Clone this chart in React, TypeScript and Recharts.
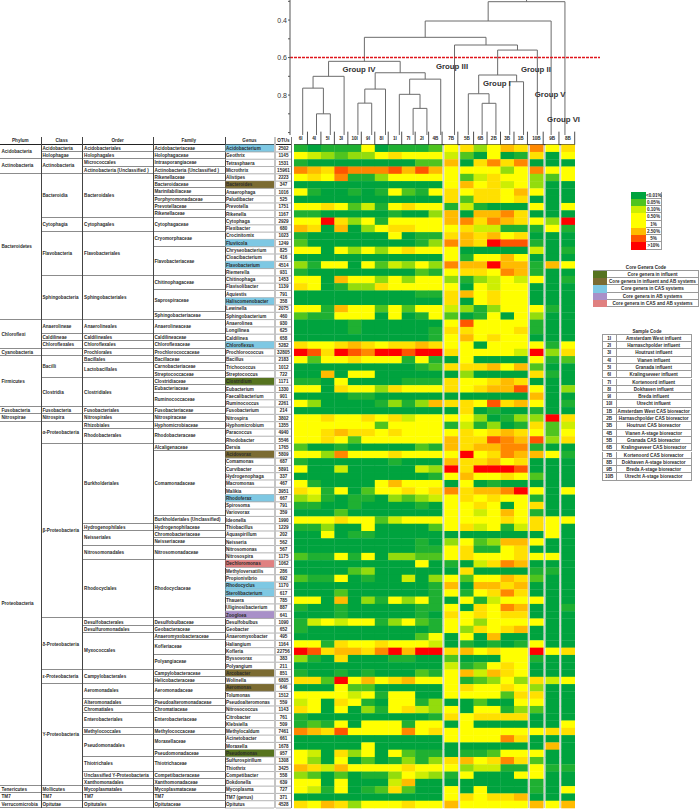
import React from "react";
import { LineChart, Line, ScatterChart, Scatter, XAxis, YAxis, ReferenceLine, ReferenceDot } from "recharts";

const columnNames = ["6I", "4I", "5I", "3I", "10I", "9I", "8I", "1I", "7I", "2I", "4B", "7B", "5B", "6B", "2B", "3B", "1B", "10B", "9B", "8B"];
const columnGroups = [11, 1, 5, 1, 1, 1];

const genera = ["Acidobacterium", "Geothrix", "Tetrasphaera", "Microthrix", "Alistipes", "Bacteroides", "Anaerophaga", "Paludibacter", "Prevotella", "Rikenella", "Cytophaga", "Flexibacter", "Crocinitomix", "Fluviicola", "Chryseobacterium", "Cloacibacterium", "Flavobacterium", "Riemerella", "Chitinophaga", "Flavisolibacter", "Aquiestis", "Haliscomenobacter", "Lewinella", "Sphingobacterium", "Anaerolinea", "Longilinea", "Caldilinea", "Chloroflexus", "Prochlorococcus", "Bacillus", "Trichococcus", "Streptococcus", "Clostridium", "Eubacterium", "Faecalibacterium", "Ruminococcus", "Fusobacterium", "Nitrospira", "Hyphomicrobium", "Paracoccus", "Rhodobacter", "Dersia", "Acidovorax", "Comamonas", "Curvibacter", "Hydrogenophaga", "Macromonas", "Malikia", "Rhodoferax", "Spirosoma", "Variovorax", "Ideonella", "Thiobacillus", "Aquaspirillum", "Neisseria", "Nitrosomonas", "Nitrosospira", "Dechloromonas", "Methyloversatilis", "Propionivibrio", "Rhodocyclus", "Sterolibacterium", "Thauera", "Uliginosibacterium", "Zoogloea", "Desulfobulbus", "Geobacter", "Anaeromyxobacter", "Haliangium", "Kofleria", "Byssovorax", "Polyangium", "Arcobacter", "Wolinella", "Aeromonas", "Tolumonas", "Pseudoalteromonas", "Nitrosococcus", "Citrobacter", "Klebsiella", "Methylocaldum", "Acinetobacter", "Moraxella", "Pseudomonas", "Sulfurospirillum", "Thiothrix", "Competibacter", "Dokdonella", "Mycoplasma", "TM7 (genus)", "Opitutus"];
const otus = [2502, 1145, 1531, 15961, 2223, 347, 1016, 525, 1751, 1167, 2929, 680, 1023, 1249, 825, 416, 4514, 931, 1453, 1139, 791, 358, 2075, 460, 930, 625, 658, 5282, 32805, 2183, 1012, 722, 1171, 1330, 901, 2261, 214, 3802, 1355, 4940, 5546, 1765, 5809, 687, 5891, 337, 467, 3951, 667, 791, 359, 1990, 1229, 202, 562, 567, 1175, 1062, 286, 692, 1170, 617, 785, 887, 641, 1090, 652, 495, 1164, 22756, 383, 211, 851, 6805, 646, 1512, 559, 1143, 761, 509, 7461, 661, 1678, 957, 1308, 3425, 558, 639, 727, 371, 4528];

const phyla: [string, number][] = [["Acidobacteria", 2], ["Actinobacteria", 2], ["Bacteroidetes", 20], ["Chloroflexi", 4], ["Cyanobacteria", 1], ["Firmicutes", 7], ["Fusobacteria", 1], ["Nitrospirae", 1], ["Proteobacteria", 50], ["Tenericutes", 1], ["TM7", 1], ["Verrucomicrobia", 1]];
const classes: [string, number][] = [["Acidobacteria", 1], ["Holophagae", 1], ["Actinobacteria", 2], ["Bacteroidia", 6], ["Cytophagia", 2], ["Flavobacteria", 6], ["Sphingobacteria", 6], ["Anaerolineae", 2], ["Caldilineae", 1], ["Chloroflexales", 1], ["", 1], ["Bacilli", 3], ["Clostridia", 4], ["Fusobacteria", 1], ["Nitrospira", 1], ["α-Proteobacteria", 3], ["β-Proteobacteria", 24], ["δ-Proteobacteria", 7], ["ε-Proteobacteria", 2], ["Y-Proteobacteria", 14], ["Mollicutes", 1], ["TM7", 1], ["Opitutae", 1]];
const orders: [string, number][] = [["Acidobacteriales", 1], ["Holophagales", 1], ["Micrococcales", 1], ["Actinobacteria (Unclassified )", 1], ["Bacteroidales", 6], ["Cytophagales", 2], ["Flavobacteriales", 6], ["Sphingobacteriales", 6], ["Anaerolineales", 2], ["Caldilineales", 1], ["Chloroflexales", 1], ["Prochlorales", 1], ["Bacillales", 1], ["Lactobacillales", 2], ["Clostridiales", 4], ["Fusobacteriales", 1], ["Nitrospirales", 1], ["Rhizobiales", 1], ["Rhodobacterales", 2], ["Burkholderiales", 11], ["Hydrogenophilales", 1], ["Neisseriales", 2], ["Nitrosomonadales", 2], ["Rhodocyclales", 8], ["Desulfobacterales", 1], ["Desulfuromonadales", 1], ["Myxococcales", 5], ["Campylobacterales", 2], ["Aeromonadales", 2], ["Alteromonadales", 1], ["Chromatiales", 1], ["Enterobacteriales", 2], ["Methylococcales", 1], ["Pseudomonadales", 3], ["Thiotrichales", 2], ["Unclassified Y-Proteobacteria", 1], ["Xanthomonadales", 1], ["Mycoplasmatales", 1], ["TM7", 1], ["Opitutales", 1]];
const families: [string, number][] = [["Acidobacteriaceae", 1], ["Holophagaceae", 1], ["Intrasporangiaceae", 1], ["Actinobacteria (Unclassified )", 1], ["Rikenellaceae", 1], ["Bacteroidaceae", 1], ["Marinilabiliaceae", 1], ["Porphyromonadaceae", 1], ["Prevotellaceae", 1], ["Rikenellaceae", 1], ["Cytophagaceae", 2], ["Cryomorphaceae", 2], ["Flavobacteriaceae", 4], ["Chitinophagaceae", 2], ["Saprospiraceae", 3], ["Sphingobacteriaceae", 1], ["Anaerolineaceae", 2], ["Caldilineaceae", 1], ["Chloroflexaceae", 1], ["Prochlorococcaceae", 1], ["Bacillaceae", 1], ["Carnobacteriaceae", 1], ["Streptococcaceae", 1], ["Clostridiaceae", 1], ["Eubacteriaceae", 1], ["Ruminococcaceae", 2], ["Fusobacteriaceae", 1], ["Nitrospiraceae", 1], ["Hyphomicrobiaceae", 1], ["Rhodobacteraceae", 2], ["Alcaligenaceae", 1], ["Comamonadaceae", 9], ["Burkholderiales (Unclassified)", 1], ["Hydrogenophilaceae", 1], ["Chromobacteriaceae", 1], ["Neisseriaceae", 1], ["Nitrosomonadaceae", 2], ["Rhodocyclaceae", 8], ["Desulfobulbaceae", 1], ["Geobacteraceae", 1], ["Anaeromyxobacteraceae", 1], ["Kofleriaceae", 2], ["Polyangiaceae", 2], ["Campylobacteraceae", 1], ["Helicobacteraceae", 1], ["Aeromonadaceae", 2], ["Pseudoalteromonadaceae", 1], ["Chromatiaceae", 1], ["Enterobacteriaceae", 2], ["Methylococcaceae", 1], ["Moraxellaceae", 2], ["Pseudomonadaceae", 1], ["Thiotrichaceae", 2], ["Competibacteraceae", 1], ["Xanthomonadaceae", 1], ["Mycoplasmataceae", 1], ["TM7", 1], ["Opitutaceae", 1]];

const coreInfluent = ["Clostridium", "Pseudomonas"];
const coreInfluentAB = ["Bacteroides", "Acidovorax", "Arcobacter", "Aeromonas"];
const coreCAS = ["Acidobacterium", "Fluviicola", "Flavobacterium", "Haliscomenobacter", "Chloroflexus", "Rhodoferax", "Rhodocyclus", "Sterolibacterium"];
const coreAB = ["Zoogloea"];
const coreCASAB = ["Dechloromonas"];

// abundance class per genus (row) and sample (column), 0 = lowest, 10 = highest
const abundance = [
  [1,0,1,1,1,5,0,1,1,1,2,5,6,3,5,7,6,8,5,6],
  [5,4,3,2,3,3,5,6,5,5,5,4,2,0,5,0,1,6,0,5],
  [1,0,0,0,0,0,0,0,0,2,2,7,0,6,8,6,8,0,0,0],
  [8,7,6,9,8,8,8,9,7,9,7,5,5,5,5,3,5,8,5,5],
  [5,6,5,8,1,1,3,5,5,5,5,5,2,4,6,5,5,3,2,5],
  [0,0,0,0,0,0,0,0,0,0,0,5,7,5,6,4,5,3,0,0],
  [5,1,0,0,1,0,1,5,2,1,5,6,5,6,6,5,7,5,0,0],
  [0,0,0,0,0,0,0,0,0,0,0,6,2,6,6,5,6,0,0,0],
  [5,5,6,5,2,4,1,5,6,5,5,1,4,1,0,0,0,5,0,5],
  [1,1,0,0,0,0,0,1,0,0,3,7,0,7,7,8,6,0,0,0],
  [5,5,10,6,3,5,1,5,5,5,5,7,8,6,8,7,6,5,3,10],
  [7,6,0,7,0,3,5,6,6,5,5,5,6,4,4,1,1,1,5,1],
  [1,0,0,0,0,0,0,5,0,1,1,6,7,6,7,5,6,0,0,0],
  [2,0,0,0,0,0,0,0,0,1,3,8,7,6,10,9,9,1,0,0],
  [5,5,0,5,3,5,3,5,6,5,5,5,0,0,0,0,0,4,0,1],
  [0,0,0,0,0,0,0,0,0,0,0,5,1,5,5,7,5,0,0,0],
  [3,1,5,5,0,5,2,4,3,5,3,8,7,7,10,7,7,1,7,5],
  [1,0,0,0,0,0,0,0,0,2,1,5,6,6,5,8,7,1,0,0],
  [5,5,0,7,5,5,3,5,3,5,5,3,1,3,4,5,4,5,0,1],
  [6,5,0,1,3,3,6,5,5,5,5,5,0,5,4,5,5,0,0,0],
  [0,0,0,0,0,0,0,0,0,1,1,6,7,5,6,5,5,0,0,0],
  [0,0,0,0,0,0,0,0,0,0,0,6,0,5,6,5,5,0,0,0],
  [5,5,1,7,5,5,2,5,2,5,5,4,3,1,3,5,5,5,1,0],
  [2,1,1,5,5,5,0,5,0,1,5,2,0,1,5,0,5,3,0,0],
  [0,0,0,0,1,0,0,0,0,0,0,5,9,5,5,5,5,1,0,0],
  [0,0,0,0,1,0,0,0,0,0,1,6,6,5,5,5,6,1,0,0],
  [0,0,0,0,0,0,0,0,0,0,1,5,7,5,6,5,5,0,0,0],
  [6,5,5,6,7,6,5,6,6,7,6,5,5,0,5,5,5,5,1,5],
  [10,9,6,10,9,8,10,10,9,10,10,6,5,5,5,5,4,10,3,6],
  [5,2,5,5,6,5,5,5,1,5,1,0,5,0,0,0,0,5,1,2],
  [0,0,0,0,0,0,0,0,0,1,2,6,6,6,7,5,7,2,0,0],
  [0,0,7,0,5,5,0,0,0,0,0,0,3,0,0,0,0,6,1,0],
  [1,1,0,5,0,0,0,0,1,1,1,6,5,5,6,7,6,0,0,0],
  [5,5,0,6,5,5,3,6,5,5,5,6,5,6,7,7,9,5,0,3],
  [0,0,0,0,1,1,0,0,0,0,0,0,0,0,0,0,0,7,0,0],
  [5,3,0,0,0,0,1,3,1,3,7,6,6,5,9,6,7,5,0,1],
  [0,0,0,0,0,0,0,0,0,0,0,0,6,0,1,0,0,1,0,0],
  [5,5,6,5,5,6,5,6,4,5,5,5,5,3,0,1,3,3,10,6],
  [5,5,5,5,5,5,2,5,5,5,5,1,4,1,3,0,1,6,2,4],
  [5,5,6,7,6,6,5,6,5,5,5,5,6,5,6,7,6,5,2,5],
  [5,5,6,5,2,5,5,5,5,5,5,7,6,6,9,8,7,9,3,6],
  [2,0,0,1,0,0,0,0,0,2,1,7,6,7,7,8,8,1,0,0],
  [5,5,3,8,5,5,5,6,5,5,5,5,10,5,6,8,7,7,5,1],
  [1,0,0,0,0,0,0,1,0,0,0,7,6,6,7,5,6,0,0,0],
  [5,0,0,4,0,0,0,0,0,4,3,10,6,10,10,10,9,0,0,0],
  [0,0,0,0,0,0,0,0,0,0,1,5,7,5,5,6,5,2,0,0],
  [5,1,0,0,0,0,5,7,5,5,5,0,5,0,1,0,0,0,0,0],
  [6,5,1,5,0,2,5,5,6,5,6,8,6,7,7,8,10,5,0,5],
  [3,4,1,0,1,1,0,3,2,3,4,5,6,5,6,5,5,1,0,0],
  [1,1,0,0,1,0,0,0,0,1,0,5,5,6,5,0,5,6,0,0],
  [0,0,0,2,0,0,0,0,0,0,0,5,5,4,5,7,5,1,0,0],
  [5,5,5,6,5,5,2,4,5,5,5,5,5,5,5,6,5,6,5,5],
  [1,1,3,0,0,5,0,0,0,0,2,5,6,4,5,1,4,6,5,0],
  [0,0,5,0,1,1,0,0,0,0,0,0,0,0,0,0,0,0,5,0],
  [0,0,0,0,0,0,0,0,0,1,0,3,5,2,3,7,7,5,0,0],
  [0,0,0,0,0,0,0,0,0,1,1,5,6,1,1,5,6,0,0,0],
  [2,1,1,5,1,5,0,3,3,2,2,5,6,5,5,5,6,5,5,0],
  [0,0,0,0,0,0,0,0,0,5,0,1,0,4,6,8,7,0,0,0],
  [0,0,0,0,2,3,0,0,0,0,0,0,6,0,0,0,0,1,1,0],
  [2,1,1,5,0,1,0,0,4,0,3,5,2,5,5,7,6,2,0,0],
  [0,0,0,0,0,0,0,0,0,0,1,7,0,7,7,6,7,0,0,0],
  [0,0,0,2,0,0,0,0,0,0,1,5,1,5,6,8,6,0,0,0],
  [5,5,0,7,0,3,1,5,3,5,1,0,5,1,4,5,5,5,0,0],
  [1,0,0,1,0,0,0,0,0,1,1,5,0,6,5,8,7,0,0,1],
  [0,0,0,1,0,0,0,0,0,1,0,6,5,6,5,6,6,0,0,0],
  [1,4,5,4,5,5,1,3,5,2,1,5,5,3,5,5,5,5,0,0],
  [1,0,0,0,0,0,0,0,0,0,1,5,3,6,5,6,7,0,0,0],
  [0,0,0,0,0,0,0,0,0,2,5,0,5,0,7,0,0,0,0,0],
  [5,5,1,6,5,5,6,5,5,5,4,0,1,0,1,0,1,5,0,0],
  [10,9,6,7,7,6,8,10,7,10,10,6,7,5,6,5,5,10,5,6],
  [3,1,0,6,0,0,0,1,1,0,0,2,0,0,0,5,5,1,0,0],
  [0,0,0,0,0,0,0,0,0,0,0,4,1,2,5,6,5,0,0,0],
  [1,0,0,1,0,1,0,0,0,2,1,5,7,4,7,6,5,0,0,0],
  [6,6,2,10,5,7,5,6,7,5,5,5,1,2,3,5,3,6,4,5],
  [0,0,0,5,2,2,0,0,0,0,0,5,6,5,5,6,5,3,0,0],
  [5,5,5,5,4,5,1,5,5,0,0,5,5,5,5,2,6,6,0,0],
  [4,5,0,6,5,1,0,5,5,1,3,0,0,2,0,0,5,5,0,0],
  [6,5,0,5,0,3,1,5,6,4,3,5,0,5,5,1,3,2,0,0],
  [1,0,0,0,0,0,0,0,0,0,1,6,5,6,6,6,6,0,0,0],
  [1,2,1,5,0,5,5,5,1,5,5,0,5,0,0,0,0,0,0,5],
  [8,7,6,9,5,5,5,5,8,5,6,5,5,5,5,5,5,5,6,6],
  [0,0,0,0,0,0,0,0,0,0,0,5,5,5,5,8,6,0,0,0],
  [0,0,0,0,0,5,0,0,0,0,0,0,0,0,0,0,0,0,7,0],
  [5,4,0,6,3,5,0,5,2,1,1,0,1,1,2,5,5,5,0,0],
  [5,3,0,5,0,2,0,1,3,1,3,6,7,5,6,8,6,2,0,0],
  [7,6,4,7,5,5,5,5,6,5,5,5,3,4,4,1,1,5,1,1],
  [3,2,0,2,0,1,1,3,5,4,3,1,5,0,0,0,5,5,0,0],
  [5,5,0,5,0,0,0,4,7,0,0,0,0,0,0,0,0,1,0,0],
  [5,4,1,5,0,1,2,6,2,0,0,5,0,5,0,0,0,1,0,5],
  [0,0,0,0,0,0,0,0,0,0,0,5,6,5,6,6,7,0,0,0],
  [6,5,7,6,3,5,5,5,6,5,5,7,5,5,5,5,5,7,5,7],
];

// dendrogram: ids below 20 are leaves, 20 and up are earlier merges
const mergeLeft = [1, 0, 21, 4, 23, 8, 7, 26, 24, 22, 13, 12, 15, 31, 33, 11, 29, 36, 37];
const mergeRight = [2, 20, 3, 5, 6, 9, 25, 10, 27, 28, 14, 30, 16, 32, 17, 34, 35, 18, 19];
const mergeSimilarity = [0.9, 0.763, 0.7, 0.843, 0.768, 0.871, 0.796, 0.715, 0.681, 0.62, 0.844, 0.793, 0.729, 0.693, 0.56, 0.533, 0.492, 0.405, 0.302];
const similarityTicks = [0.3, 0.4, 0.5, 0.6, 0.7, 0.8, 0.9, 1];
const groupNames = ["Group IV", "Group III", "Group II", "Group I", "Group V", "Group VI"];
const groupLeaf = [4.07, 10.82, 16.9, 14.07, 17.93, 18.9];
const groupSimilarity = [0.663, 0.647, 0.663, 0.738, 0.796, 0.928];

const legendLabels = ["<0.01%", "0.05%", "0.10%", "0.50%", "1%", "2.50%", "5%", ">10%"];
const legendLevels = [0, 2, 4, 5, 5, 7, 9, 10];
const coreLabels = ["Core genera in influent", "Core genera in influent and AB systems", "Core genera in CAS systems", "Core genera in AB systems", "Core genera in CAS and AB systems"];
const sampleCodes = ["1I", "2I", "3I", "4I", "5I", "6I", "7I", "8I", "9I", "10I", "1B", "2B", "3B", "4B", "5B", "6B", "7B", "8B", "9B", "10B"];
const sampleNames = ["Amsterdam West influent", "Harnaschpolder influent", "Houtrust influent", "Vianen influent", "Granada influent", "Kralingseveer influent", "Kortenoord influent", "Dokhaven influent", "Breda influent", "Utrecht influent", "Amsterdam West CAS bioreactor", "Harnaschpolder CAS bioreactor", "Houtrust CAS bioreactor", "Vianen A-stage bioreactor", "Granada CAS bioreactor", "Kralingseveer CAS bioreactor", "Kortenoord CAS bioreactor", "Dokhaven A-stage bioreactor", "Breda A-stage bioreactor", "Utrecht A-stage bioreactor"];

const heatColors = ["#00a33e", "#1fb032", "#4fc41f", "#93dc0d", "#cdee03", "#ffff00", "#ffe000", "#ffbb00", "#ff8800", "#ff5500", "#ff0000"];
const coreColors = ["#56731f", "#7b6b32", "#7ec8e3", "#a890c8", "#e08080"];

const FONT = "'Liberation Sans', Arial, sans-serif";
const TEXT_SIZE = 4.6;
const INK = "#2b2b2b";
const ROW_H = 7.29;
const TABLE_TOP = 144.65;
const CELL_W = 13.45;
const SLOT_GAP = 0.17;

const slots: number[] = [];
{
  let pos = 0;
  columnGroups.forEach((size) => {
    for (let i = 0; i < size; i++) slots.push(pos++);
    pos += SLOT_GAP;
  });
}

const heatCells = abundance.flatMap((values, row) =>
  values.map((level, col) => ({ slot: slots[col], row, level }))
);

function HeatCell(props: any) {
  const level = props.payload ? props.payload.level : props.level;
  return <rect x={props.cx - CELL_W / 2} y={props.cy - ROW_H / 2} width={CELL_W + 0.3} height={ROW_H + 0.3} fill={heatColors[level]} />;
}

function coreColor(name: string) {
  if (coreInfluent.includes(name)) return coreColors[0];
  if (coreInfluentAB.includes(name)) return coreColors[1];
  if (coreCAS.includes(name)) return coreColors[2];
  if (coreAB.includes(name)) return coreColors[3];
  if (coreCASAB.includes(name)) return coreColors[4];
  return null;
}

function GenusTick({ y, payload }: any) {
  const name = genera[payload.value];
  const fill = coreColor(name);
  return (
    <g>
      {fill && <rect x={225.5} y={y - ROW_H / 2} width={48.5} height={ROW_H} fill={fill} />}
      <line x1={225} x2={274} y1={y + ROW_H / 2} y2={y + ROW_H / 2} stroke="#a0a0a0" strokeWidth={0.8} />
      <line x1={276} x2={291} y1={y + ROW_H / 2} y2={y + ROW_H / 2} stroke="#a0a0a0" strokeWidth={0.8} />
      <text x={226} y={y + 1.7} fontSize={TEXT_SIZE} fontWeight="bold" fill={INK} fontFamily={FONT}>{name}</text>
      <text x={283.5} y={y + 1.7} fontSize={TEXT_SIZE} fontWeight="bold" fill={INK} textAnchor="middle" fontFamily={FONT}>{otus[payload.value]}</text>
    </g>
  );
}

function HeaderTick({ x, y, payload }: any) {
  const idx = slots.indexOf(payload.value);
  return (
    <g>
      <text x={x} y={y + 3} fontSize={TEXT_SIZE} fontWeight="bold" fill={INK} textAnchor="middle" fontFamily={FONT}>{columnNames[idx]}</text>
      <line x1={x + CELL_W / 2} x2={x + CELL_W / 2} y1={y - 5} y2={y + 8} stroke="#222" strokeWidth={0.8} />
    </g>
  );
}

function treeLinks() {
  const pos: Record<number, number> = {};
  const sim: Record<number, number> = {};
  for (let i = 0; i < 20; i++) { pos[i] = i; sim[i] = 1.013; }
  const links = mergeLeft.map((left, i) => {
    const right = mergeRight[i];
    const h = mergeSimilarity[i];
    pos[20 + i] = (pos[left] + pos[right]) / 2;
    sim[20 + i] = h;
    return [
      { pos: pos[left], sim: sim[left] },
      { pos: pos[left], sim: h },
      { pos: pos[right], sim: h },
      { pos: pos[right], sim: sim[right] },
    ];
  });
  const root = 20 + mergeLeft.length - 1;
  links.push([{ pos: pos[root], sim: sim[root] }, { pos: pos[root], sim: 0.293 }]);
  return links;
}

function SpanColumn({ left, width, spans, header }: { left: number; width: number; spans: [string, number][]; header: string }) {
  let row = 0;
  return (
    <>
      <div style={{ position: "absolute", left, width, top: 137, height: 7.6, lineHeight: "7.6px", textAlign: "center", fontSize: TEXT_SIZE, fontWeight: "bold" }}>{header}</div>
      {spans.map(([label, span], i) => {
        const top = TABLE_TOP + row * ROW_H;
        row += span;
        return (
          <div key={i} style={{ position: "absolute", left, width, top, height: span * ROW_H, lineHeight: `${span * ROW_H}px`, fontSize: TEXT_SIZE, fontWeight: "bold", paddingLeft: 1.5, boxSizing: "border-box", whiteSpace: "nowrap", borderBottom: "0.8px solid #8c8c8c" }}>{label}</div>
        );
      })}
    </>
  );
}

function Taxonomy() {
  const rules = [40.7, 82.3, 152.7, 224.7];
  return (
    <div style={{ fontFamily: FONT, color: INK }}>
      <SpanColumn left={0} width={40.7} spans={phyla} header="Phylum" />
      <SpanColumn left={41} width={41.3} spans={classes} header="Class" />
      <SpanColumn left={82.6} width={70.1} spans={orders} header="Order" />
      <SpanColumn left={153} width={71.7} spans={families} header="Family" />
      <div style={{ position: "absolute", left: 225, width: 49, top: 137, height: 7.6, lineHeight: "7.6px", textAlign: "center", fontSize: TEXT_SIZE, fontWeight: "bold" }}>Genus</div>
      <div style={{ position: "absolute", left: 276, width: 15, top: 137, height: 7.6, lineHeight: "7.6px", textAlign: "center", fontSize: TEXT_SIZE, fontWeight: "bold" }}>OTUs</div>
      <div style={{ position: "absolute", left: 0, width: 292, top: 144.2, height: 0.9, background: "#222" }} />
      {rules.map((x) => (
        <div key={x} style={{ position: "absolute", left: x, width: 0.8, top: 137, height: 671, background: "#444" }} />
      ))}
      <div style={{ position: "absolute", left: 274.4, width: 1.6, top: 137, height: 671, background: "#c4c4c4" }} />
      <div style={{ position: "absolute", left: 291, width: 0.8, top: 137, height: 671, background: "#777" }} />
    </div>
  );
}

function Dendrogram() {
  const links = treeLinks();
  return (
    <div style={{ position: "absolute", left: 0, top: 0 }}>
      <LineChart width={600} height={135} margin={{ top: 0, right: 0, bottom: 0, left: 262 }}>
        <XAxis type="number" dataKey="pos" domain={[-0.92, 21.54]} hide />
        <YAxis
          type="number"
          dataKey="sim"
          domain={[0.293, 1.013]}
          reversed
          width={28}
          ticks={similarityTicks}
          tickFormatter={(v: number) => ([0.4, 0.6, 0.8].includes(v) ? v.toFixed(1) : "")}
          tick={{ fontSize: 7, fill: "#333", fontFamily: FONT }}
          tickSize={2}
          tickMargin={1}
          stroke="#555"
        />
        {links.map((data, i) => (
          <Line key={i} data={data} dataKey="sim" type="linear" dot={false} stroke="#6b6b6b" strokeWidth={1} isAnimationActive={false} />
        ))}
        <ReferenceLine y={0.6} stroke="#e0161c" strokeWidth={1.5} strokeDasharray="3 1" segment={[{ x: -0.92, y: 0.6 }, { x: 19, y: 0.6 }]} />
        {groupNames.map((name, i) => (
          <ReferenceDot
            key={name}
            x={groupLeaf[i]}
            y={groupSimilarity[i]}
            r={0}
            label={{ value: name, position: "center", fontSize: 7.8, fontWeight: "bold", fill: "#333", fontFamily: FONT }}
          />
        ))}
      </LineChart>
    </div>
  );
}

function HeatMap() {
  const gapLines = [slots[10] + 0.5 + SLOT_GAP / 2, slots[11] + 0.5 + SLOT_GAP / 2, slots[16] + 0.5 + SLOT_GAP / 2, slots[17] + 0.5 + SLOT_GAP / 2, slots[18] + 0.5 + SLOT_GAP / 2];
  const influentRules = slots.slice(0, 10).map((s) => s + 0.5);
  return (
    <div style={{ position: "absolute", left: 0, top: 0 }}>
      <ScatterChart width={700} height={809} margin={{ top: 137, right: 125.3, bottom: 1, left: 0 }}>
        <XAxis
          xAxisId={0}
          type="number"
          dataKey="slot"
          orientation="top"
          domain={[-0.5, slots[19] + 0.5]}
          ticks={slots}
          interval={0}
          height={7.65}
          tick={<HeaderTick />}
          tickLine={false}
          axisLine={{ stroke: "#222" }}
        />
        <YAxis
          type="number"
          dataKey="row"
          domain={[-0.5, 90.5]}
          reversed
          width={294}
          ticks={genera.map((_, i) => i)}
          interval={0}
          tick={<GenusTick />}
          tickLine={false}
          axisLine={false}
        />
        <Scatter data={heatCells} shape={<HeatCell />} isAnimationActive={false} />
        {influentRules.map((x) => (
          <ReferenceLine key={x} x={x} stroke="#004020" strokeOpacity={0.3} strokeWidth={0.6} />
        ))}
        {gapLines.map((x) => (
          <ReferenceLine key={x} x={x} stroke="#c9c9c9" strokeWidth={1.2} />
        ))}
      </ScatterChart>
    </div>
  );
}

function Legends() {
  const border = "1px solid #9a9a9a";
  return (
    <div style={{ fontFamily: FONT, color: INK, fontSize: TEXT_SIZE, fontWeight: "bold" }}>
      {legendLabels.map((label, i) => (
        <React.Fragment key={label}>
          <div style={{ position: "absolute", left: 631, width: 14.5, top: 191.7 + i * 7.25, height: 7.25, background: heatColors[legendLevels[i]] }} />
          <div style={{ position: "absolute", left: 646, width: 16, top: 191.7 + i * 7.25, height: 7.25, lineHeight: "7.25px", textAlign: "center", borderBottom: border, borderRight: border, boxSizing: "border-box" }}>{label}</div>
        </React.Fragment>
      ))}
      <div style={{ position: "absolute", left: 592, width: 108, top: 263.5, textAlign: "center", lineHeight: "7px" }}>Core Genera Code</div>
      <div style={{ position: "absolute", left: 592.7, width: 106.6, top: 270.4, height: 1, background: "#9a9a9a" }} />
      {coreLabels.map((label, i) => (
        <React.Fragment key={label}>
          <div style={{ position: "absolute", left: 592.7, width: 14, top: 270.7 + i * 7.3, height: 7.3, background: coreColors[i] }} />
          <div style={{ position: "absolute", left: 606.7, width: 92.6, top: 270.7 + i * 7.3, height: 7.3, lineHeight: "7.3px", textAlign: "center", borderBottom: border, borderRight: border, boxSizing: "border-box", whiteSpace: "nowrap" }}>{label}</div>
        </React.Fragment>
      ))}
      <div style={{ position: "absolute", left: 601, width: 92, top: 327.5, textAlign: "center", lineHeight: "7px" }}>Sample Code</div>
      <div style={{ position: "absolute", left: 601.7, width: 90, top: 334.4, height: 1, background: "#9a9a9a" }} />
      {sampleCodes.map((code, i) => (
        <React.Fragment key={code}>
          <div style={{ position: "absolute", left: 601.7, width: 15, top: 334.7 + i * 7.3, height: 7.3, lineHeight: "7.3px", textAlign: "center", borderLeft: border, borderRight: border, borderBottom: border, boxSizing: "border-box" }}>{code}</div>
          <div style={{ position: "absolute", left: 616.7, width: 75, top: 334.7 + i * 7.3, height: 7.3, lineHeight: "7.3px", textAlign: "center", borderBottom: border, borderRight: border, boxSizing: "border-box", whiteSpace: "nowrap" }}>{sampleNames[i]}</div>
        </React.Fragment>
      ))}
    </div>
  );
}

export default function App() {
  return (
    <div style={{ position: "absolute", left: 0, top: 0, width: 700, height: 809, background: "#fff", overflow: "hidden" }}>
      <Taxonomy />
      <Dendrogram />
      <HeatMap />
      <Legends />
    </div>
  );
}
